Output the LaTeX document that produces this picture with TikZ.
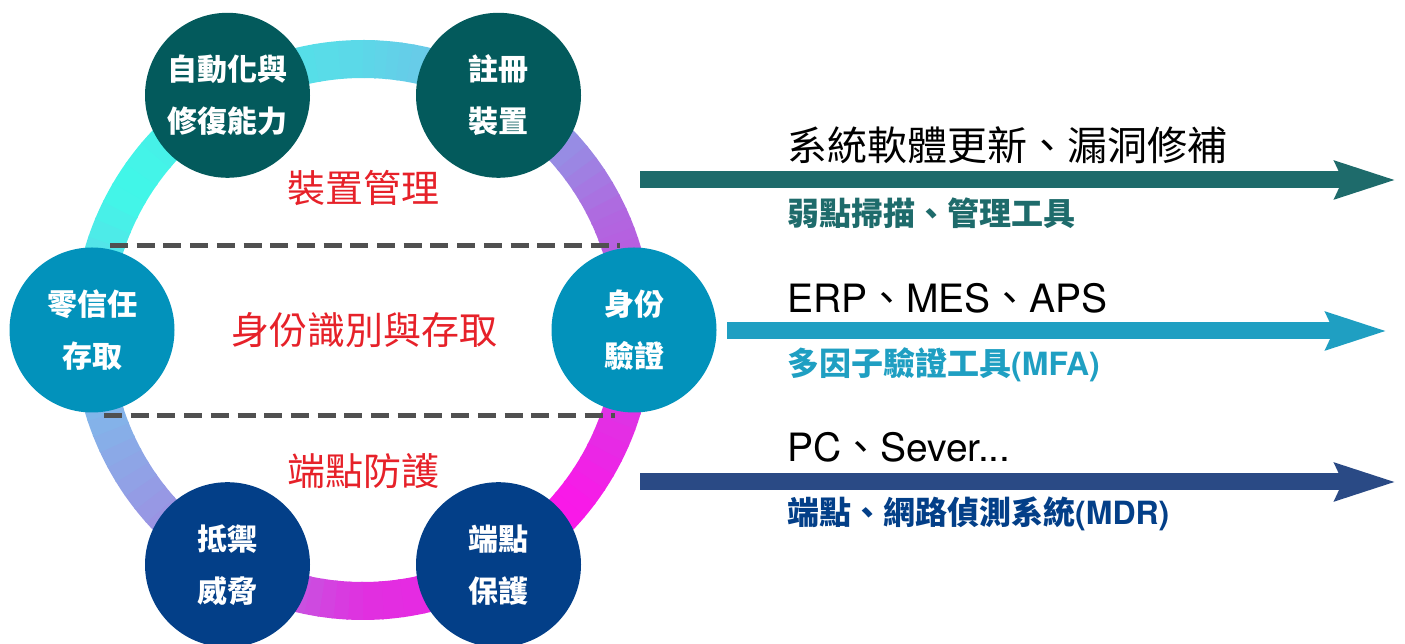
\documentclass[tikz,border=0pt]{standalone}
\usepackage{fontspec}
\setmainfont{TeX Gyre Heros}
\newfontfamily\cjk{Noto Sans CJK TC}
\usetikzlibrary{arrows.meta}

% ring colours, by angle
\definecolor{ringA}{HTML}{40F8E8}
\definecolor{ringB}{HTML}{5CD8E8}
\definecolor{ringC}{HTML}{78B8E8}
\definecolor{ringD}{HTML}{B068E0}
\definecolor{ringE}{HTML}{C848E0}
\definecolor{ringF}{HTML}{FA18E8}
\definecolor{ringG}{HTML}{E030E0}
\definecolor{ringH}{HTML}{A585E0}
\definecolor{ringI}{HTML}{80B8EA}
% nodes, arrows, texts
\definecolor{devteal}{HTML}{035A5C}
\definecolor{idblue}{HTML}{0292BB}
\definecolor{epblue}{HTML}{033F88}
\definecolor{arrteal}{HTML}{1E6B6B}
\definecolor{arrcyan}{HTML}{1F9FC2}
\definecolor{arrnavy}{HTML}{2A4A85}
\definecolor{zonered}{HTML}{E62129}
\definecolor{dashgray}{HTML}{505050}

\tikzset{
  pillar/.style={circle, minimum size=165pt, inner sep=0pt, text=white, align=center,
    font=\cjk\bfseries\fontsize{30}{52}\selectfont},
  zone/.style={text=zonered, font=\cjk\fontsize{38}{40}\selectfont},
  split/.style={draw=dashgray, line width=5pt, dash pattern=on 18pt off 8.7pt},
  item/.style={anchor=west, inner sep=0pt, font=\fontsize{39}{41}\selectfont},
  tool/.style={anchor=west, inner sep=0pt, font=\cjk\bfseries\fontsize{32}{34}\selectfont},
  flow/.style={line width=17pt, -{Stealth[length=60pt, width=36pt, inset=7pt]}},
}

\begin{document}
\begin{tikzpicture}[x=1pt, y=1pt]
    \useasboundingbox (0,0) rectangle (1405,644);
    \coordinate (ring) at (363,314);
    % ring
    \foreach \aa/\ab/\ca/\cb in {150/90/ringA/ringB, 90/60/ringB/ringC, 60/25/ringC/ringD,
        25/0/ringD/ringE, 0/-40/ringE/ringF, -40/-90/ringF/ringG, -90/-125/ringG/ringH,
        -125/-165/ringH/ringI, -165/-210/ringI/ringA}{
      \foreach \t in {0,...,11}{
        \pgfmathsetmacro\sa{\aa+(\ab-\aa)*\t/12}
        \pgfmathsetmacro\sb{\aa+(\ab-\aa)*(\t+1)/12-0.4}
        \pgfmathtruncatemacro\pc{100-(\t+0.5)*100/12}
        \draw[draw={\ca!\pc!\cb}, line width=38pt] (ring) ++(\sa:271) arc[start angle=\sa, end angle=\sb, radius=271];
      }
    }
    % dashed lines
    \coordinate (cut1 l) at (110,398);\coordinate (cut1 r) at (620,398);
    \coordinate (cut2 l) at (104,228);\coordinate (cut2 r) at (615,228);
    \draw[split] (cut1 l) -- (cut1 r);
    \draw[split] (cut2 l) -- (cut2 r);
    % zone labels
    \node[zone] (devzone) at (363,456) {裝置管理};
    \node[zone] (idzone) at (364,314) {身份識別與存取};
    \node[zone] (epzone) at (363,173) {端點防護};
    % pillars
    \node[pillar, fill=devteal] (autofix) at ([shift={(120:271)}]ring) {自動化與\\修復能力};
    \node[pillar, fill=devteal] (enroll) at ([shift={(60:271)}]ring) {註冊\\裝置};
    \node[pillar, fill=idblue] (zerotrust) at ([shift={(180:271)}]ring) {零信任\\存取};
    \node[pillar, fill=idblue] (idcheck) at ([shift={(0:271)}]ring) {身份\\驗證};
    \node[pillar, fill=epblue] (defend) at ([shift={(240:271)}]ring) {抵禦\\威脅};
    \node[pillar, fill=epblue] (epguard) at ([shift={(300:271)}]ring) {端點\\保護};
    % arrows
    \coordinate (upd s) at (640,464);\coordinate (upd e) at (1396,464);
    \coordinate (app s) at (727,313);\coordinate (app e) at (1387,313);
    \coordinate (dev s) at (640,162);\coordinate (dev e) at (1396,162);
    \draw[flow, arrteal] (upd s) -- (upd e);
    \draw[flow, arrcyan] (app s) -- (app e);
    \draw[flow, arrnavy] (dev s) -- (dev e);
    % texts
    \node[item, font=\cjk\fontsize{40}{42}\selectfont] (updtext) at (787,499) {系統軟體更新、漏洞修補};
    \node[tool, text=arrteal] (updtool) at (787,431) {弱點掃描、管理工具};
    \node[item] (apptext) at (787,346) {ERP{\cjk 、}MES{\cjk 、}APS};
    \node[tool, text=arrcyan] (apptool) at (787,279) {多因子驗證工具{\rmfamily\bfseries (MFA)}};
    \node[item] (devtext) at (787,197) {PC{\cjk 、}Sever...};
    \node[tool, text=epblue] (devtool) at (787,130) {端點、網路偵測系統{\rmfamily\bfseries (MDR)}};
\end{tikzpicture}
\end{document}
